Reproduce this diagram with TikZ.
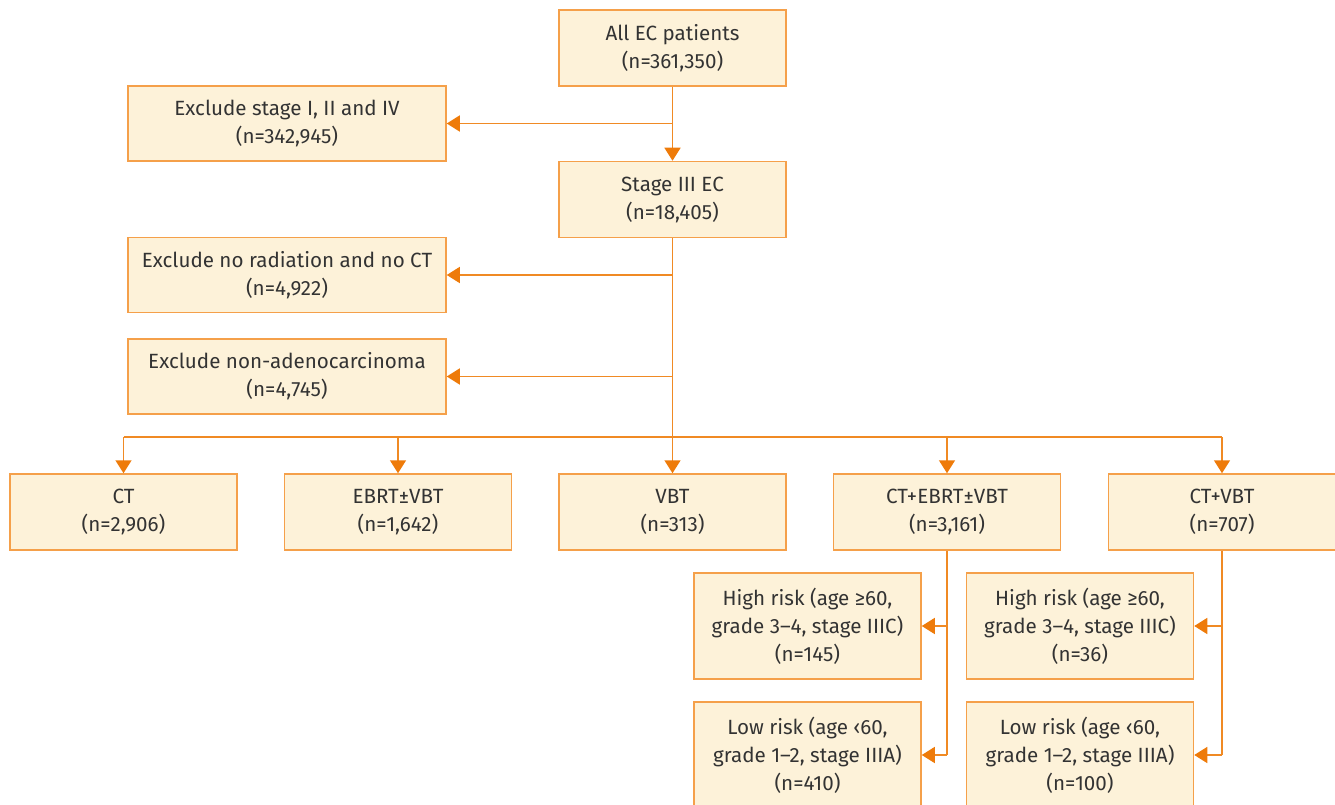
\documentclass[tikz,border=0pt]{standalone}
\usepackage{fontspec}
\setmainfont{Fira Sans}
\usetikzlibrary{arrows.meta}
\definecolor{boxfill}{HTML}{FDF2D9}
\definecolor{boxline}{HTML}{F5A04A}
\definecolor{conn}{HTML}{F08A24}
\definecolor{tipc}{HTML}{EE7B0A}
\definecolor{txt}{HTML}{333333}
\tikzset{
  box/.style={draw=boxline, fill=boxfill, line width=1.5pt, inner sep=0pt, align=center,
    text=txt, font=\fontsize{20.6}{28}\selectfont},
  wide/.style={box, minimum width=318pt, minimum height=75pt},
  mid/.style={box, minimum width=227pt, minimum height=76pt},
  risk/.style={box, minimum width=227pt, minimum height=106pt},
  line/.style={draw=conn, line width=1.5pt},
  arr/.style={line, -{Triangle[width=16pt,length=13pt,color=tipc]}},
}
\begin{document}
\begin{tikzpicture}[x=1pt,y=-1pt]
\useasboundingbox (0,0) rectangle (1335,805);
\clip (0,0) rectangle (1335,805);
\node[mid] (all) at (672.5,48) {All EC patients\\(n=361,350)};
\node[wide] (ex1) at (287,123.5) {Exclude stage I, II and IV\\(n=342,945)};
\node[mid] (s3) at (672.5,199.5) {Stage III EC\\(n=18,405)};
\node[wide] (ex2) at (287,275) {Exclude no radiation and no CT\\(n=4,922)};
\node[wide] (ex3) at (287,376.5) {Exclude non-adenocarcinoma\\(n=4,745)};
\node[mid] (ct) at (123.5,512) {CT\\(n=2,906)};
\node[mid] (ebrt) at (398,512) {EBRT±VBT\\(n=1,642)};
\node[mid] (vbt) at (672.5,512) {VBT\\(n=313)};
\node[mid] (cte) at (947,512) {CT+EBRT±VBT\\(n=3,161)};
\node[mid] (ctv) at (1222,512) {CT+VBT\\(n=707)};
\node[risk] (h1) at (807.5,626) {High risk (age ≥60,\\grade 3–4, stage IIIC)\\(n=145)};
\node[risk] (l1) at (807.5,755) {Low risk (age ‹60,\\grade 1–2, stage IIIA)\\(n=410)};
\node[risk] (h2) at (1080,626) {High risk (age ≥60,\\grade 3–4, stage IIIC)\\(n=36)};
\node[risk] (l2) at (1080,755) {Low risk (age ‹60,\\grade 1–2, stage IIIA)\\(n=100)};
% main trunk
\draw[arr] (all.south) -- (s3.north);
\draw[arr] (all.south |- ex1.east) -- (ex1.east);
\coordinate (bus) at (672.5,437);
\draw[line] (s3.south) -- (bus);
\draw[arr] (s3.south |- ex2.east) -- (ex2.east);
\draw[arr] (s3.south |- ex3.east) -- (ex3.east);
\draw[line] (ct.north |- bus) -- (ctv.north |- bus);
\draw[arr] (bus) -- (vbt.north);
\draw[arr] (ct.north |- bus) -- (ct.north);
\draw[arr] (ebrt.north |- bus) -- (ebrt.north);
\draw[arr] (cte.north |- bus) -- (cte.north);
\draw[arr] (ctv.north |- bus) -- (ctv.north);
% subgroups
\draw[line] (cte.south) -- (cte.south |- l1.east);
\draw[arr] (cte.south |- h1.east) -- (h1.east);
\draw[arr] (cte.south |- l1.east) -- (l1.east);
\draw[line] (ctv.south) -- (ctv.south |- l2.east);
\draw[arr] (ctv.south |- h2.east) -- (h2.east);
\draw[arr] (ctv.south |- l2.east) -- (l2.east);
\end{tikzpicture}
\end{document}
